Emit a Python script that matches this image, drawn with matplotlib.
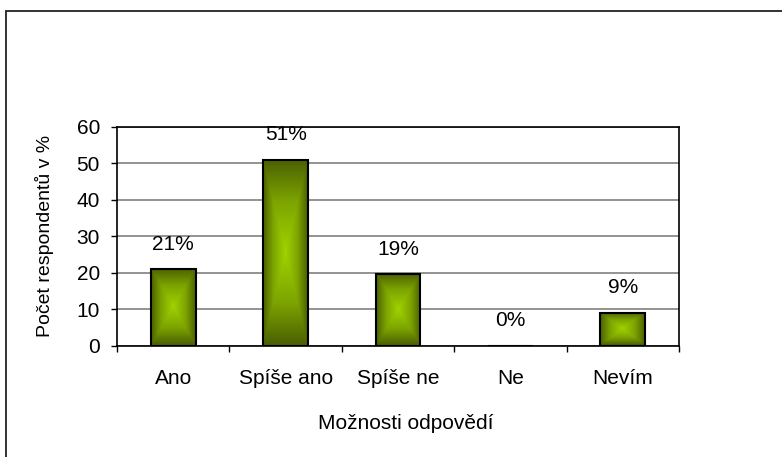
import numpy as np
import matplotlib
matplotlib.use("Agg")
import matplotlib.pyplot as plt
from matplotlib.colors import LinearSegmentedColormap
from matplotlib.patches import Rectangle

# data
categories = ["Ano", "Spíše ano", "Spíše ne", "Ne", "Nevím"]
values = [21, 51, 19.5, 0, 9]
value_labels = ["21%", "51%", "19%", "0%", "9%"]

plt.rcParams['font.family'] = ['Liberation Sans', 'DejaVu Sans']
FS = 15

fig = plt.figure(figsize=(7.82, 4.57), dpi=100)
ax = fig.add_axes([117 / 782, 111.5 / 457, 562 / 782, 218.5 / 457])

# rectangular "from centre" gradient like the old Excel fill
cmap = LinearSegmentedColormap.from_list(
    "olive", [(0.0, "#9fd200"), (0.55, "#7ca300"), (1.0, "#4b6000")])
u = np.linspace(-1, 1, 200)
U, V = np.meshgrid(u, u)
grad = np.maximum(np.abs(U), np.abs(V))

x = np.arange(len(categories))
bars = ax.bar(x, values, width=0.4, facecolor='none',
              edgecolor='black', linewidth=1.5, zorder=3)
for b, lbl in zip(bars, value_labels):
    h = b.get_height()
    x0, w = b.get_x(), b.get_width()
    if h > 0:
        ax.imshow(grad, cmap=cmap, extent=(x0, x0 + w, 0, h),
                  aspect='auto', zorder=2, interpolation='bilinear')
    ax.annotate(lbl, (x0 + w / 2, h), xytext=(0, 14),
                textcoords='offset points', ha='center', va='baseline',
                fontsize=FS)

ax.set_xlim(-0.5, len(categories) - 0.5)
ax.set_ylim(0, 60)
ax.set_yticks(range(0, 61, 10))
ax.yaxis.grid(True, color='#808080', linewidth=1.2, zorder=0)
ax.set_axisbelow(True)

ax.set_xticks(np.arange(-0.5, len(categories), 1))
ax.set_xticklabels([])
ax.set_xticks(x, minor=True)
ax.set_xticklabels(categories, minor=True)
ax.tick_params(axis='x', which='major', direction='out', length=4, width=1)
ax.tick_params(axis='x', which='minor', length=0, pad=17, labelsize=FS)
ax.tick_params(axis='y', direction='out', length=4.3, width=1, pad=8,
               labelsize=FS)

for s in ax.spines.values():
    s.set_color('black')
    s.set_linewidth(1.2)

ax.set_ylabel("Počet respondentů v %", fontsize=14)
ax.yaxis.set_label_coords(-0.112, 0.5)
ax.set_xlabel("Možnosti odpovědí", fontsize=FS)
ax.xaxis.set_label_coords(0.514, -0.315)

# outer chart frame (only left and top edges fall inside the image)
fig.add_artist(Rectangle((6 / 782, -0.5), 2, 0.5 + 1 - 11 / 457,
                         transform=fig.transFigure, fill=False,
                         edgecolor='#222222', linewidth=1.3))

fig.savefig("out.png", dpi=100)
